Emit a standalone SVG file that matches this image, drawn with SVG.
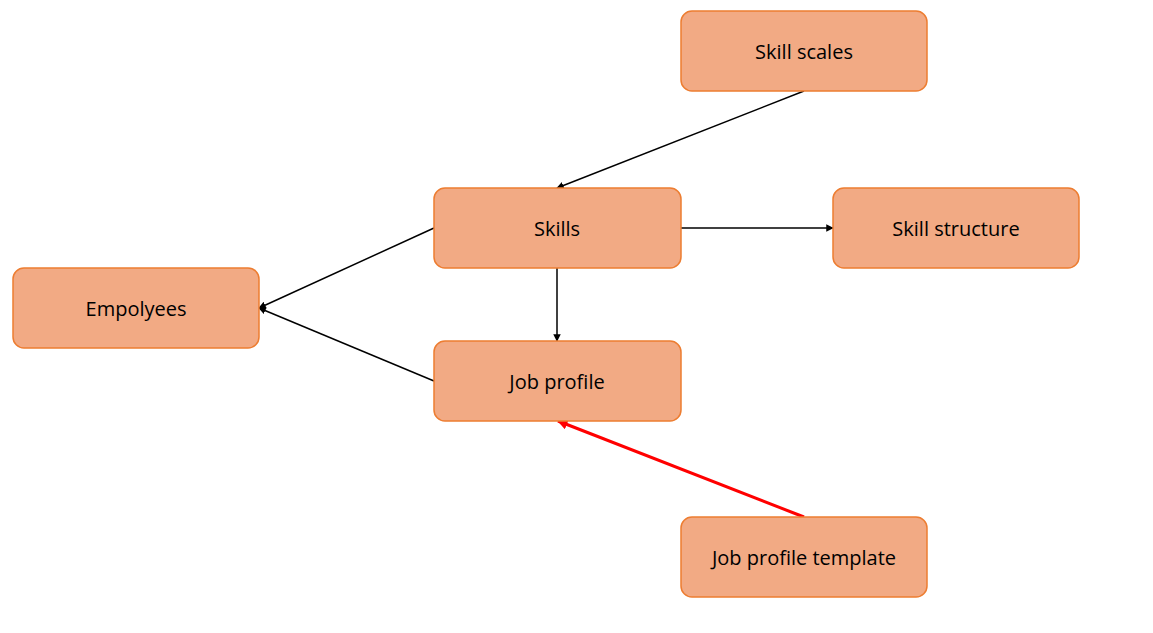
<svg xmlns="http://www.w3.org/2000/svg" width="1153" height="633" viewBox="0 0 1153 633">
<style>
.n rect{fill:#F2AA84;stroke:#ED7D31;stroke-width:1.5}
.n text{font-family:"Open Sans","Liberation Sans",sans-serif;font-size:20px;fill:#000;text-anchor:middle;dominant-baseline:central}
.c{stroke:#000;stroke-width:1.5;fill:none;marker-end:url(#a)}
.r{stroke:#FF0000;stroke-width:3;fill:none;marker-end:url(#ar)}
</style>
<defs>
<marker id="a" viewBox="0 0 10 10" refX="9" refY="5" markerWidth="5" markerHeight="5" orient="auto"><path d="M0,0L10,5L0,10z" fill="#000"/></marker>
<marker id="ar" viewBox="0 0 10 10" refX="9" refY="5" markerWidth="3.5" markerHeight="3.5" orient="auto"><path d="M0,0L10,5L0,10z" fill="#FF0000"/></marker>
</defs>
<rect width="1153" height="633" fill="#fff"/>
<g id="connectors">
<line class="c" x1="804" y1="91" x2="557" y2="188"/>
<line class="c" x1="681" y1="228" x2="833" y2="228"/>
<line class="c" x1="557" y1="268" x2="557" y2="341"/>
<line class="c" x1="434" y1="228" x2="259" y2="308"/>
<line class="c" x1="434" y1="381" x2="259" y2="308"/>
<line class="r" x1="804" y1="517" x2="558" y2="421"/>
</g>
<g id="skill-scales" class="n"><rect x="681" y="11" width="246" height="80" rx="11"/><text x="804" y="51">Skill scales</text></g>
<g id="skills" class="n"><rect x="434" y="188" width="247" height="80" rx="11"/><text x="557" y="228">Skills</text></g>
<g id="skill-structure" class="n"><rect x="833" y="188" width="246" height="80" rx="11"/><text x="956" y="228">Skill structure</text></g>
<g id="empolyees" class="n"><rect x="13" y="268" width="246" height="80" rx="11"/><text x="136" y="308">Empolyees</text></g>
<g id="job-profile" class="n"><rect x="434" y="341" width="247" height="80" rx="11"/><text x="557" y="381">Job profile</text></g>
<g id="job-profile-template" class="n"><rect x="681" y="517" width="246" height="80" rx="11"/><text x="804" y="557">Job profile template</text></g>
</svg>
